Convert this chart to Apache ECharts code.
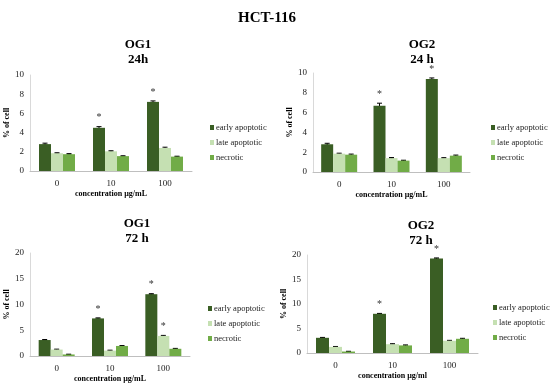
<!DOCTYPE html>
<html><head><meta charset="utf-8">
<script src="https://cdn.jsdelivr.net/npm/echarts@6/dist/echarts.min.js"></script>
<style>html,body{margin:0;padding:0;background:#fff}#c{width:550px;height:388px}</style>
</head><body><div id="c"></div>
<script>
var categories = ['0', '10', '100'];
var seriesNames = ['early apoptotic', 'late apoptotic', 'necrotic'];
var seriesColors = ['#3a5e24', '#c5e0b2', '#71ac47'];

// panel 1: OG1 24h
var og1_24_early = [2.8, 4.5, 7.2];
var og1_24_late = [1.85, 2.05, 2.4];
var og1_24_nec = [1.75, 1.55, 1.5];
var og1_24_err_early = [0.1, 0.12, 0.1];
var og1_24_err_late = [0.05, 0.06, 0.08];
var og1_24_err_nec = [0.06, 0.04, 0.04];
var og1_24_star = [false, true, true];

// panel 2: OG2 24h
var og2_24_early = [2.8, 6.7, 9.4];
var og2_24_late = [1.85, 1.4, 1.4];
var og2_24_nec = [1.75, 1.15, 1.65];
var og2_24_err_early = [0.1, 0.25, 0.1];
var og2_24_err_late = [0.05, 0.06, 0.05];
var og2_24_err_nec = [0.06, 0.04, 0.06];
var og2_24_star = [false, true, true];

// panel 3: OG1 72h
var og1_72_early = [3.1, 7.3, 12.0];
var og1_72_late = [1.25, 1.05, 3.9];
var og1_72_nec = [0.3, 1.95, 1.4];
var og1_72_err_early = [0.1, 0.1, 0.1];
var og1_72_err_late = [0.08, 0.08, 0.1];
var og1_72_err_nec = [0.05, 0.08, 0.08];
var og1_72_star = [false, true, true];
var og1_72_star_late = [false, false, true];

// panel 4: OG2 72h
var og2_72_early = [3.1, 8.0, 19.3];
var og2_72_late = [1.25, 1.8, 2.5];
var og2_72_nec = [0.3, 1.55, 2.9];
var og2_72_err_early = [0.08, 0.08, 0.1];
var og2_72_err_late = [0.08, 0.1, 0.08];
var og2_72_err_nec = [0.05, 0.1, 0.1];
var og2_72_star = [false, true, true];

var yTicks = { top: { max: 10, interval: 2 }, bottom: { max: 20, interval: 5 } };

var FONT = '"Liberation Serif", "DejaVu Serif", serif';

var panels = [
  { title: 'OG1\n24h', tx: 133, ty: 32, grid: { left: 30, top: 75, width: 162, height: 96 }, y: yTicks.top,
    data: [og1_24_early, og1_24_late, og1_24_nec], err: [og1_24_err_early, og1_24_err_late, og1_24_err_nec],
    stars: [og1_24_star, null, null], xname: 'concentration µg/mL', legend: { left: 205, top: 118 }, bw: 12 },
  { title: 'OG2\n24 h', tx: 417, ty: 32, grid: { left: 313, top: 73, width: 157, height: 99 }, y: yTicks.top,
    data: [og2_24_early, og2_24_late, og2_24_nec], err: [og2_24_err_early, og2_24_err_late, og2_24_err_nec],
    stars: [og2_24_star, null, null], xname: 'concentration µg/mL', legend: { left: 486, top: 118 }, bw: 12 },
  { title: 'OG1\n72 h', tx: 132, ty: 211, grid: { left: 30, top: 253, width: 160, height: 103 }, y: yTicks.bottom,
    data: [og1_72_early, og1_72_late, og1_72_nec], err: [og1_72_err_early, og1_72_err_late, og1_72_err_nec],
    stars: [og1_72_star, og1_72_star_late, null], xname: 'concentration µg/mL', legend: { left: 203, top: 299 }, bw: 12 },
  { title: 'OG2\n72 h', tx: 416, ty: 213, grid: { left: 307, top: 255, width: 171, height: 98 }, y: yTicks.bottom,
    data: [og2_72_early, og2_72_late, og2_72_nec], err: [og2_72_err_early, og2_72_err_late, og2_72_err_nec],
    stars: [og2_72_star, null, null], xname: 'concentration µg/ml', legend: { left: 488, top: 298 }, bw: 13 }
];

var option = {
  animation: false,
  backgroundColor: '#fff',
  title: [{ text: 'HCT-116', left: 262, top: 6, textAlign: 'center',
    textStyle: { fontFamily: FONT, fontSize: 15, fontWeight: 'bold', color: '#000' } }],
  grid: [], xAxis: [], yAxis: [], series: [], legend: []
};

panels.forEach(function (p, pi) {
  option.title.push({ text: p.title, left: p.tx, top: p.ty, textAlign: 'center',
    textStyle: { fontFamily: FONT, fontSize: 13, fontWeight: 'bold', color: '#000', lineHeight: 15 } });
  option.grid.push(p.grid);
  option.xAxis.push({ type: 'category', gridIndex: pi, data: categories,
    name: p.xname, nameLocation: 'middle', nameGap: 19,
    nameTextStyle: { fontFamily: FONT, fontSize: 8, fontWeight: 'bold', color: '#000' },
    axisLine: { lineStyle: { color: '#bfbfbf' } }, axisTick: { show: false },
    axisLabel: { fontFamily: FONT, fontSize: 9, color: '#222', margin: 8 } });
  option.yAxis.push({ type: 'value', gridIndex: pi, min: 0, max: p.y.max, interval: p.y.interval,
    name: '% of cell', nameLocation: 'middle', nameGap: 19, nameRotate: 90,
    nameTextStyle: { fontFamily: FONT, fontSize: 8, fontWeight: 'bold', color: '#000' },
    axisLine: { show: true, lineStyle: { color: '#d9d9d9' } }, axisTick: { show: false }, splitLine: { show: false },
    axisLabel: { fontFamily: FONT, fontSize: 9, color: '#222', margin: 6 } });
  seriesNames.forEach(function (name, si) {
    option.series.push({ type: 'bar', name: name, xAxisIndex: pi, yAxisIndex: pi, data: p.data[si],
      barWidth: p.bw, barGap: '0%', itemStyle: { color: seriesColors[si] } });
  });
  option.legend.push({ data: seriesNames, orient: 'vertical', left: p.legend.left, top: p.legend.top,
    itemWidth: 4, itemHeight: 5, itemGap: 6, icon: 'rect',
    textStyle: { fontFamily: FONT, fontSize: 8.5, color: '#222', padding: [0, 0, 0, -3] } });
  // error bars and stars
  seriesNames.forEach(function (name, si) {
    var d = p.data[si].map(function (v, i) {
      return [i, v, p.err[si][i], p.stars[si] && p.stars[si][i] ? 1 : 0];
    });
    option.series.push({ type: 'custom', xAxisIndex: pi, yAxisIndex: pi, data: d, silent: true,
      renderItem: (function (bw, si) {
        return function (params, api) {
          var i = api.value(0), v = api.value(1), e = api.value(2), st = api.value(3);
          var c = api.coord([i, v]);
          var x = c[0] + (si - 1) * bw;
          var yh = api.coord([i, v + e])[1];
          var yl = api.coord([i, v - e])[1];
          var ch = [];
          var ls = { stroke: '#000', lineWidth: 1 };
          ch.push({ type: 'line', shape: { x1: x, y1: yh, x2: x, y2: yl }, style: ls });
          ch.push({ type: 'line', shape: { x1: x - 2.5, y1: yh, x2: x + 2.5, y2: yh }, style: ls });
          ch.push({ type: 'line', shape: { x1: x - 2.5, y1: yl, x2: x + 2.5, y2: yl }, style: ls });
          if (st) {
            ch.push({ type: 'text', style: { text: '*', x: x, y: yh - 9, align: 'center', verticalAlign: 'middle',
              font: '10px ' + FONT, fill: '#333' } });
          }
          return { type: 'group', children: ch };
        };
      })(p.bw, si) });
  });
});

var chart = echarts.init(document.getElementById('c'), null, { renderer: 'canvas' });
chart.setOption(option);
</script></body></html>
